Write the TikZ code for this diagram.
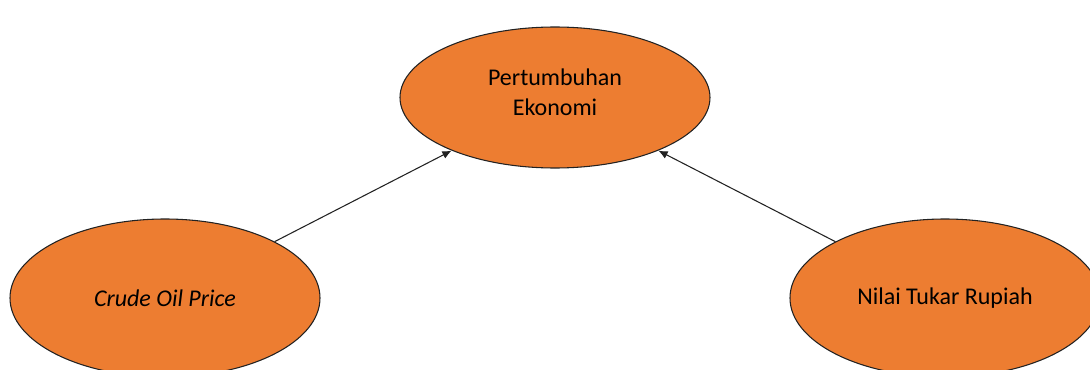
\documentclass[tikz,border=0pt]{standalone}
\usepackage{fontspec}
\setmainfont{Carlito}
\usetikzlibrary{shapes.geometric,arrows.meta}
\definecolor{boxfill}{HTML}{ED7D31}
\definecolor{edgec}{HTML}{222222}
\tikzset{
  oval/.style={ellipse, draw=edgec, line width=0.8pt, fill=boxfill, inner sep=0pt,
    minimum width=310*0.75pt, align=center, font=\fontsize{18}{22.5}\selectfont},
  link/.style={draw=edgec, line width=0.8pt, -{Latex[length=7pt,width=6pt]}}
}
\begin{document}
\begin{tikzpicture}[x=0.75pt,y=0.75pt]
\useasboundingbox (0,0) rectangle (1090,369);
\clip (0,0) rectangle (1090,369);
\node[oval, minimum height=141*0.75pt, text depth=8pt] (growth) at (555,271.5) {Pertumbuhan\\Ekonomi};
\node[oval, minimum height=158*0.75pt] (oil) at (165,71) {\itshape Crude Oil Price};
\node[oval, minimum height=158*0.75pt] (rupiah) at (945,71) {Nilai Tukar Rupiah};
\draw[link] (oil) -- (growth);
\draw[link] (rupiah) -- (growth);
\end{tikzpicture}
\end{document}
